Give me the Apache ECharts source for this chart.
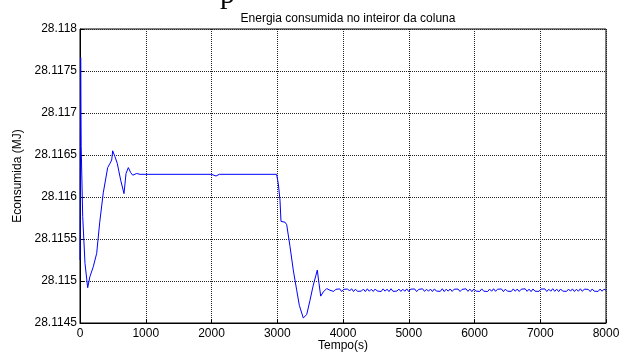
<!DOCTYPE html>
<html>
<head>
<meta charset="utf-8">
<script src="https://cdn.jsdelivr.net/npm/echarts@6/dist/echarts.min.js"></script>
<style>
  html, body { margin: 0; padding: 0; background: #fff; }
  #chart { width: 630px; height: 354px; }
</style>
</head>
<body>
<div id="chart"></div>
<script>
// Transient response: time (s) and consumed energy (MJ)
const tempo = [0, 10, 18, 41, 76, 117, 150, 202, 254, 300, 354, 421, 456, 482, 497, 532, 567, 619, 669, 700, 735, 771, 802, 862, 913,
  2000, 2030, 2069, 2119, 2990, 3016, 3042, 3057, 3083, 3118, 3144, 3194, 3244, 3296, 3336, 3396, 3448, 3498, 3548, 3589, 3609,
  3635, 3661, 3701, 3752, 3802];
const energia = [28.11525, 28.11766, 28.11660, 28.11577, 28.11521, 28.11492, 28.11505, 28.11517, 28.11533, 28.11570, 28.11605,
  28.11635, 28.11640, 28.11644, 28.11655, 28.11648, 28.11640, 28.11620, 28.11604, 28.11628, 28.11635, 28.11629, 28.11626,
  28.11628, 28.11627, 28.11627, 28.11628, 28.11625, 28.11627, 28.11627, 28.11616, 28.11596, 28.11571, 28.11570, 28.11570,
  28.11567, 28.11541, 28.11513, 28.11489, 28.11471, 28.11456, 28.11460, 28.11477, 28.11495, 28.11507, 28.11513, 28.11497,
  28.11482, 28.11487, 28.11491, 28.11489];

// Steady-state ripple after 3800 s, sampled every 30 s
const inicioRipple = 3830;
const passoRipple = 30;
const energiaRipple = [
  28.114904, 28.114876, 28.114901, 28.114879, 28.114906, 28.114874, 28.114900, 28.114878, 28.114905, 28.114881,
  28.114908, 28.114875, 28.114903, 28.114877, 28.114900, 28.114880, 28.114904, 28.114874, 28.114907, 28.114878,
  28.114902, 28.114876, 28.114905, 28.114881, 28.114899, 28.114875, 28.114906, 28.114879, 28.114903, 28.114874,
  28.114908, 28.114877, 28.114900, 28.114880, 28.114904, 28.114876, 28.114902, 28.114878, 28.114906, 28.114875,
  28.114903, 28.114881, 28.114905, 28.114874, 28.114900, 28.114879, 28.114907, 28.114876, 28.114902, 28.114878,
  28.114904, 28.114875, 28.114906, 28.114880, 28.114900, 28.114877, 28.114908, 28.114874, 28.114903, 28.114879,
  28.114905, 28.114876, 28.114902, 28.114881, 28.114904, 28.114875, 28.114900, 28.114878, 28.114907, 28.114877,
  28.114903, 28.114874, 28.114905, 28.114880, 28.114902, 28.114876, 28.114906, 28.114879, 28.114900, 28.114875,
  28.114904, 28.114878, 28.114908, 28.114877, 28.114902, 28.114881, 28.114905, 28.114874, 28.114903, 28.114879,
  28.114900, 28.114876, 28.114906, 28.114878, 28.114904, 28.114875, 28.114902, 28.114880, 28.114907, 28.114877,
  28.114903, 28.114874, 28.114905, 28.114879, 28.114900, 28.114876, 28.114904, 28.114881, 28.114906, 28.114875,
  28.114902, 28.114878, 28.114908, 28.114877, 28.114903, 28.114874, 28.114905, 28.114880, 28.114900, 28.114876,
  28.114904, 28.114879, 28.114906, 28.114875, 28.114902, 28.114878, 28.114907, 28.114877, 28.114903, 28.114881,
  28.114900, 28.114874, 28.114905, 28.114879, 28.114902, 28.114876, 28.114904, 28.114878, 28.114903, 28.114889
];

const xTicks = ['0', '1000', '2000', '3000', '4000', '5000', '6000', '7000', '8000'];
const yTicks = ['28.1145', '28.115', '28.1155', '28.116', '28.1165', '28.117', '28.1175', '28.118'];

const serie = tempo.map((t, i) => [t, energia[i]]);
energiaRipple.forEach((v, i) => serie.push([Math.min(inicioRipple + i * passoRipple, 8000), v]));

const font = 'Liberation Sans, Arial, sans-serif';
const grade = { show: true, lineStyle: { color: '#222', width: 1, type: [1, 1] } };

const chart = echarts.init(document.getElementById('chart'), null, { renderer: 'canvas' });
chart.setOption({
  animation: false,
  backgroundColor: '#fff',
  title: {
    text: 'Energia consumida no inteiror da coluna',
    left: 343, top: 8, textAlign: 'center',
    textStyle: { fontFamily: font, fontSize: 12, fontWeight: 'normal', color: '#000' }
  },
  graphic: [{
    // bottom of a heading line above the plot, cut by the page edge
    type: 'text', x: 220, y: -20,
    style: { text: 'p', font: '30px "Liberation Serif", serif', fill: '#000' }
  }, {
    // x-axis title
    type: 'text', x: 343, y: 346,
    style: { text: 'Tempo(s)', font: '12px ' + font, fill: '#000', align: 'center', verticalAlign: 'middle' }
  }],
  grid: { left: 80, right: 24, top: 29, bottom: 31, show: true, borderColor: '#000', borderWidth: 1,
    containLabel: false, outerBoundsMode: 'none' },
  xAxis: {
    type: 'value', min: 0, max: 8000, interval: 1000,
    axisLine: { show: true, lineStyle: { color: '#000', width: 1 } },
    axisTick: { show: true, inside: true, length: 4, lineStyle: { color: '#000' } },
    axisLabel: { fontFamily: font, fontSize: 12, color: '#000', margin: 5,
      formatter: v => xTicks[Math.round(v / 1000)] ?? '' },
    splitLine: grade
  },
  yAxis: {
    type: 'value', min: 28.1145, max: 28.118, interval: 0.0005,
    name: 'Econsumida (MJ)', nameLocation: 'middle', nameGap: 53,
    nameTextStyle: { fontFamily: font, fontSize: 12, color: '#000' },
    axisLine: { show: true, lineStyle: { color: '#000', width: 1 } },
    axisTick: { show: true, inside: true, length: 4, lineStyle: { color: '#000' } },
    axisLabel: { fontFamily: font, fontSize: 12, color: '#000', margin: 3,
      formatter: v => yTicks[Math.round((v - 28.1145) / 0.0005)] ?? '' },
    splitLine: grade
  },
  series: [{
    type: 'line', data: serie, showSymbol: false, symbol: 'none',
    lineStyle: { color: '#0000ff', width: 1 }, z: 3
  }]
});
</script>
</body>
</html>
